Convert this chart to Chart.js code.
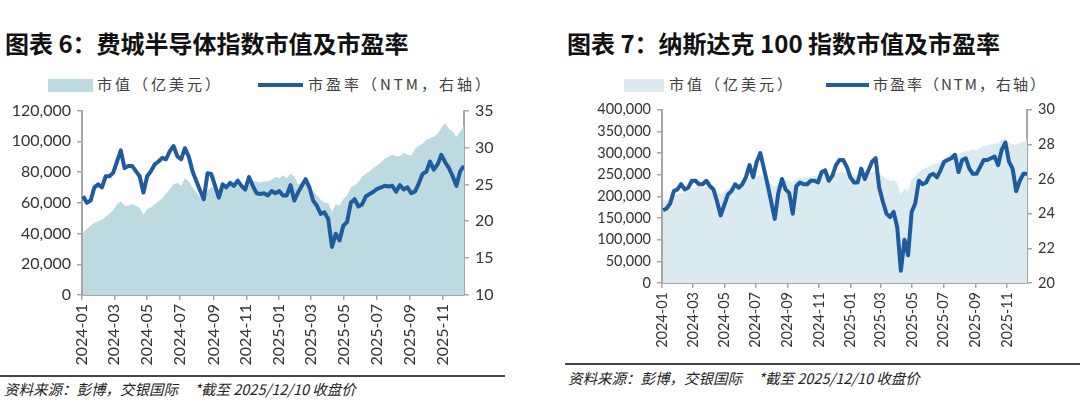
<!DOCTYPE html>
<html>
<head>
<meta charset="utf-8">
<script src="https://cdn.jsdelivr.net/npm/chart.js@4.4.0/dist/chart.umd.min.js"></script>
<style>
    body { margin: 0; width: 1080px; height: 417px; background: #fff; position: relative; overflow: hidden;
           font-family: "Noto Sans CJK SC", sans-serif; }
    .title { position: absolute; top: 25px; font-size: 24px; font-weight: bold; color: #111; white-space: nowrap; }
    .lg { position: absolute; top: 74px; font-size: 15px; color: #404040; white-space: nowrap; letter-spacing: 3px; line-height: 20px; }
    .box { position: absolute; top: 79px; height: 13px; }
    .ln { position: absolute; top: 83px; height: 4px; background: #1f5c9f; }
    .rule { position: absolute; height: 1.5px; background: #444; }
    .note { position: absolute; font-size: 14.5px; font-style: italic; color: #222; white-space: nowrap; }
    canvas { position: absolute; }
</style>
</head>
<body>

<div class="title" style="left:5px;">图表 6：费城半导体指数市值及市盈率</div>
<div class="title" style="left:567px;">图表 7：纳斯达克 100 指数市值及市盈率</div>

<div class="box" style="left:48px; width:45px; background:#bcdadf;"></div>
<div class="lg" style="left:97px;">市值（亿美元）</div>
<div class="ln" style="left:258px; width:45px;"></div>
<div class="lg" style="left:308px;">市盈率（NTM，右轴）</div>

<div class="box" style="left:624px; width:40px; background:#dbeaee;"></div>
<div class="lg" style="left:669px;">市值（亿美元）</div>
<div class="ln" style="left:826px; width:43px;"></div>
<div class="lg" style="left:873px; letter-spacing:2px;">市盈率（NTM，右轴）</div>

<canvas id="semi" width="540" height="280" style="left:0; top:95px;"></canvas>
<canvas id="ndx" width="520" height="268" style="left:560px; top:95px;"></canvas>

<div class="rule" style="left:0; top:375px; width:505px;"></div>
<div class="note" style="left:4px; top:378px;">资料来源：彭博，交银国际 &nbsp; &nbsp; *截至 2025/12/10 收盘价</div>
<div class="rule" style="left:565px; top:363px; width:515px;"></div>
<div class="note" style="left:568px; top:367px;">资料来源：彭博，交银国际 &nbsp; &nbsp; *截至 2025/12/10 收盘价</div>

<script>
// weekly points, 2024-01-03 .. 2025-12-10
var monthNames = ['2024-01', '2024-03', '2024-05', '2024-07', '2024-09', '2024-11',
                  '2025-01', '2025-03', '2025-05', '2025-07', '2025-09', '2025-11'];

// 费城半导体: 市值 (亿美元)
var semiCap = [40500, 43000, 45000, 47000, 48000, 49000, 51000, 53000, 55000, 59000, 61000, 58000, 58000, 59000, 58000, 57000, 52000,
               56000, 57000, 59000, 61000, 63000, 66000, 69000, 72000, 73000, 71000, 76000, 74000, 70000, 67000, 64000, 61000, 68000,
               70000, 70000, 68000, 71000, 71000, 72000, 73000, 73000, 72000, 71000, 73000, 74000, 74000, 73000, 74000, 74000, 75000,
               77000, 76000, 78000, 76000, 79000, 77000, 72000, 73000, 75000, 71000, 67000, 65000, 62000, 60000, 60000, 54000, 59000,
               58000, 62400, 65000, 70000, 71400, 73500, 77000, 79000, 80600, 82800, 84300, 86400, 88600, 89900, 91200, 90300, 90300,
               92500, 91200, 90700, 95000, 97200, 98500, 101000, 102000, 103000, 105000, 108600, 112000, 108000, 106400, 102800, 106400, 110000];
// 费城半导体: 市盈率 NTM
var semiPE = [23.4, 22.5, 22.8, 24.6, 25.0, 24.6, 26.1, 26.1, 26.6, 28.1, 29.6, 27.2, 27.5, 27.5, 26.8, 26.1, 23.9,
              26.1, 26.8, 27.7, 28.1, 28.6, 28.4, 29.5, 30.2, 28.8, 28.4, 29.9, 28.8, 26.8, 25.5, 24.2, 23.0, 26.5,
              26.4, 24.8, 23.2, 25.0, 24.6, 25.2, 24.8, 25.5, 24.8, 24.3, 26.0, 24.8, 23.8, 23.7, 23.8, 23.5, 24.1,
              23.8, 24.1, 23.5, 23.5, 24.9, 22.8, 23.9, 24.8, 25.7, 24.6, 22.8, 22.1, 21.0, 21.2, 20.3, 16.5, 18.3,
              17.4, 19.4, 19.9, 22.5, 23.0, 22.0, 22.3, 23.4, 23.7, 24.0, 24.4, 24.6, 24.8, 24.7, 24.8, 24.0, 24.9,
              24.3, 24.6, 23.8, 24.0, 25.1, 26.4, 26.7, 28.1, 27.0, 27.7, 29.0, 28.0, 27.2, 26.1, 24.8, 26.8, 27.5];

// 纳斯达克100: 市值 (亿美元)
var ndxCap = [192000, 190000, 195000, 200000, 205000, 208000, 210000, 213000, 218000, 220000, 222000, 220000, 222000, 225000, 218000, 210000, 205000,
              212000, 218000, 222000, 225000, 228000, 232000, 236000, 242000, 240000, 246000, 250000, 245000, 238000, 228000, 222000, 230000, 236000,
              238000, 236000, 232000, 240000, 243000, 244000, 245000, 246000, 247000, 246000, 250000, 252000, 248000, 250000, 253000, 256000, 256000,
              254000, 250000, 248000, 248000, 254000, 250000, 254000, 257000, 258000, 252000, 246000, 240000, 236000, 238000, 230000, 205000, 218000,
              212000, 240000, 246000, 256000, 262000, 266000, 270000, 274000, 276000, 280000, 286000, 292000, 296000, 298000, 296000, 302000, 304000,
              305000, 308000, 306000, 312000, 316000, 317000, 320000, 322000, 322000, 330000, 334000, 324000, 320000, 318000, 324000, 328000, 332000];
// 纳斯达克100: 市盈率 NTM
var ndxPE = [24.2, 24.3, 24.6, 25.3, 25.4, 25.7, 25.4, 25.5, 25.9, 25.9, 25.7, 25.7, 25.9, 25.6, 25.4, 24.7, 23.9,
             24.5, 25.1, 25.3, 25.7, 25.5, 25.7, 26.1, 26.8, 26.1, 27.0, 27.5, 26.6, 25.7, 24.7, 23.7, 25.2, 26.0,
             25.4, 25.2, 24.0, 25.6, 25.8, 25.7, 25.7, 25.9, 25.9, 25.8, 26.4, 26.5, 25.9, 26.2, 26.8, 27.1, 27.1,
             26.7, 26.1, 25.8, 25.8, 26.6, 26.0, 26.5, 27.0, 27.2, 25.5, 24.7, 24.0, 23.8, 24.1, 23.2, 20.7, 22.5,
             21.6, 24.1, 24.6, 25.9, 25.7, 25.8, 26.2, 26.3, 26.1, 26.5, 27.0, 27.1, 27.2, 27.4, 26.4, 27.1, 27.2,
             26.6, 26.3, 26.3, 26.7, 27.1, 27.1, 27.2, 27.3, 26.8, 27.7, 28.1, 27.0, 26.6, 25.3, 25.9, 26.3, 26.3];

var DAY = 86400000;
var t0 = Date.UTC(2024, 0, 1);
var weekDays = [];
for (var k = 0; k < semiPE.length; k++) {
    weekDays.push((Date.UTC(2024, 0, 3) - t0) / DAY + 7 * k);
}
var tickNames = {};
var tickDays = [];
for (var i in monthNames) {
    var p = monthNames[i].split('-');
    var d = (Date.UTC(+p[0], +p[1] - 1, 1) - t0) / DAY;
    tickDays.push(d);
    tickNames[d] = monthNames[i];
}

function pts(vals) {
    var out = [];
    for (var i = 0; i < vals.length; i++) out.push({ x: weekDays[i], y: vals[i] });
    return out;
}

var grey = '#a6a6a6';
var txt = '#333';
var numFont = 'Lato, "Noto Sans CJK SC", sans-serif';

function axisStyle(size) {
    return {
        border: { display: true, color: grey, width: 2 },
        grid: { display: true, drawOnChartArea: false, drawTicks: true, tickLength: 5, color: grey, lineWidth: 1.5 },
        ticks: { color: txt, font: { family: numFont, size: size }, padding: 6 }
    };
}

function makeChart(id, cap, pe, fillColor, o) {
    var x = axisStyle(o.font);
    x.type = 'linear';
    x.min = 0;
    x.max = weekDays[weekDays.length - 1];
    x.ticks.autoSkip = false;
    x.ticks.minRotation = 90;
    x.ticks.maxRotation = 90;
    x.ticks.padding = 4;
    x.ticks.callback = function (v) { return tickNames[v] || ''; };
    x.afterBuildTicks = function (s) { s.ticks = tickDays.map(function (v) { return { value: v }; }); };
    x.afterFit = function (s) { s.height = o.xh; };

    var y = axisStyle(o.font);
    y.position = 'left';
    y.min = 0; y.max = o.capMax;
    y.ticks.stepSize = o.capStep;
    y.ticks.callback = function (v) { return v.toLocaleString('en-US'); };
    y.afterFit = function (s) { s.width = o.lw; };

    var y1 = axisStyle(o.font);
    y1.position = 'right';
    y1.min = o.peMin; y1.max = o.peMax;
    y1.ticks.stepSize = o.peStep;
    y1.afterFit = function (s) { s.width = o.rw; };

    return new Chart(document.getElementById(id), {
        type: 'line',
        data: {
            datasets: [
                {
                    label: '市盈率（NTM，右轴）',
                    data: pts(pe),
                    yAxisID: 'y1',
                    borderColor: '#1f5c9f',
                    borderWidth: 4,
                    borderJoinStyle: 'round',
                    pointRadius: 0,
                    tension: 0,
                    fill: false
                },
                {
                    label: '市值（亿美元）',
                    data: pts(cap),
                    yAxisID: 'y',
                    borderWidth: 0,
                    borderColor: fillColor,
                    backgroundColor: fillColor,
                    pointRadius: 0,
                    tension: 0,
                    fill: 'origin'
                }
            ]
        },
        options: {
            responsive: false,
            animation: false,
            layout: { padding: { top: o.top, left: 0, right: 0, bottom: 0 } },
            plugins: { legend: { display: false }, tooltip: { enabled: false } },
            scales: { x: x, y: y, y1: y1 }
        }
    });
}

makeChart('semi', semiCap, semiPE, '#bcdadf',
    { top: 14, xh: 80, lw: 82, rw: 76, font: 16, capMax: 120000, capStep: 20000, peMin: 10, peMax: 35, peStep: 5 });
makeChart('ndx', ndxCap, ndxPE, '#dbeaee',
    { top: 10, xh: 80, lw: 102, rw: 53, font: 14.5, capMax: 400000, capStep: 50000, peMin: 20, peMax: 30, peStep: 2 });
</script>
</body>
</html>
